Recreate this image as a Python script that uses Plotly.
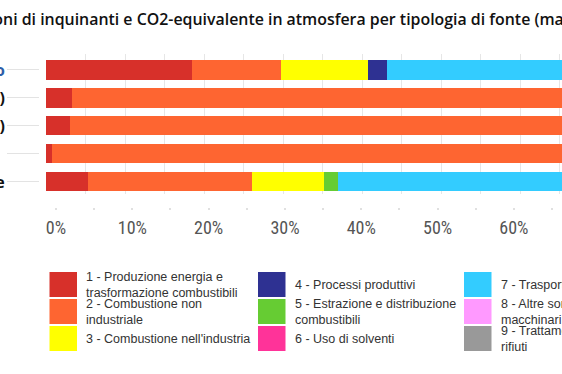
import plotly.graph_objects as go

# ---------------- data ----------------
categories = [
    "<span style='color:#2f5fa8'>Ossidi di azoto</span>",
    "Polveri sottili (PM10)",
    "Polveri fini (PM2.5)",
    "Benzo(a)pirene&nbsp;&nbsp;&nbsp;",
    "CO2 equivalente",
]
sources = [
    "1 - Produzione energia e<br>trasformazione combustibili",
    "2 - Combustione non<br>industriale",
    "3 - Combustione nell'industria",
    "4 - Processi produttivi",
    "5 - Estrazione e distribuzione<br>combustibili",
    "6 - Uso di solventi",
    "7 - Trasporto stradale",
    "8 - Altre sorgenti mobili e<br>macchinari",
    "9 - Trattamento e smaltimento<br>rifiuti",
]
colors = ["#D7302A", "#FE6531", "#FFFF00", "#2E3192", "#66CC33",
          "#FF3399", "#33CCFF", "#FF99FF", "#999999"]

s1 = [0.184, 0.032, 0.030, 0.007, 0.052]
s2 = [0.113, 0.930, 0.935, 0.970, 0.208]
s3 = [0.110, 0.010, 0.008, 0.010, 0.092]
s4 = [0.024, 0.005, 0.004, 0.000, 0.000]
s5 = [0.000, 0.000, 0.000, 0.000, 0.017]
s6 = [0.000, 0.000, 0.000, 0.000, 0.000]
s7 = [0.500, 0.015, 0.015, 0.010, 0.520]
s8 = [0.060, 0.005, 0.005, 0.003, 0.070]
s9 = [0.009, 0.003, 0.003, 0.000, 0.041]
series = [s1, s2, s3, s4, s5, s6, s7, s8, s9]

tick_vals = [0.0, 0.05, 0.10, 0.15, 0.20, 0.25, 0.30, 0.35, 0.40, 0.45, 0.50, 0.55, 0.60, 0.65]
tick_text = ["0%", "", "10%", "", "20%", "", "30%", "", "40%", "", "50%", "", "60%", ""]

title_text = "Emissioni di inquinanti e CO2-equivalente in atmosfera per tipologia di fonte (macrosettore)"

# ---------------- layout helpers ----------------
W, H = 562, 374
ML, MT, MB = 7, 54, 167
PW = W - ML
PH = H - MT - MB


def px_x(p):
    return (p - ML) / PW


def px_y(p):
    return (H - MB - p) / PH


fig = go.Figure()
for name, col, vals in zip(sources, colors, series):
    fig.add_trace(go.Bar(
        y=categories, x=vals, orientation="h", name=name,
        marker=dict(color=col, line=dict(width=0)),
        showlegend=False,
    ))

# invisible helper trace for the label axis
fig.add_trace(go.Scatter(x=[0], y=[categories[0]], xaxis="x2", yaxis="y",
                         mode="markers", marker=dict(opacity=0),
                         showlegend=False, hoverinfo="skip"))

# legend drawn manually (3 columns, column-major)
col_x = [49.5, 258, 464]
row_top = [272, 299, 326]
sw_w, sw_h = 27.5, 25
shapes = []
annotations = []
for i, (name, col) in enumerate(zip(sources, colors)):
    c, r = divmod(i, 3)
    x0 = col_x[c]
    y0 = row_top[r]
    shapes.append(dict(type="rect", xref="paper", yref="paper",
                       x0=px_x(x0), x1=px_x(x0 + sw_w),
                       y0=px_y(y0 + sw_h), y1=px_y(y0),
                       fillcolor=col, line=dict(width=0)))
    annotations.append(dict(text=name, xref="paper", yref="paper",
                            x=px_x(x0 + sw_w + 7), y=px_y(y0 + sw_h / 2),
                            xanchor="left", yanchor="middle", align="left",
                            showarrow=False,
                            font=dict(family="Liberation Sans, Arial", size=12.5, color="#333333")))

annotations.append(dict(text=title_text, xref="paper", yref="paper",
                        x=px_x(-57), y=px_y(19), xanchor="left", yanchor="middle",
                        showarrow=False,
                        font=dict(family="Open Sans", size=15.9, color="#111111", weight=600)))

fig.update_layout(
    width=W, height=H,
    margin=dict(l=ML, r=0, t=MT, b=MB, pad=0, autoexpand=False),
    paper_bgcolor="white", plot_bgcolor="white",
    barmode="stack", bargap=0.32,
    showlegend=False,
    shapes=shapes, annotations=annotations,
    xaxis=dict(domain=[px_x(46), 1], range=[-0.0006, 0.653],
               tickvals=tick_vals, showticklabels=False, ticks="",
               showgrid=True, gridcolor="#e6e6e6", gridwidth=1,
               zeroline=False, showline=False, anchor="y", fixedrange=True,
               automargin=False),
    xaxis2=dict(overlaying="x", anchor="free", position=0, side="bottom",
                range=[-0.0131, 0.663], tickvals=tick_vals, ticktext=tick_text,
                ticks="outside", ticklen=2, tickwidth=2, tickcolor="#e0e0e0",
                ticklabelstandoff=2, automargin=False,
                showgrid=False, zeroline=False, showline=False,
                tickfont=dict(family="Liberation Sans Narrow, Roboto Condensed, Arial Narrow, Liberation Sans", size=18, color="#555555")),
    yaxis=dict(domain=[px_y(194), 1], type="category",
               range=[4.43, -0.571], anchor="free", position=px_x(39),
               ticks="outside", ticklen=32, tickwidth=1, tickcolor="#e3e3e3",
               ticklabelstandoff=-1,
               showgrid=False, zeroline=False, showline=False, automargin=False,
               tickfont=dict(family="Open Sans", size=16, color="#111111", weight=700)),
)

fig.write_html("out.html", config={"displayModeBar": False},
               post_script="document.body.style.margin='0';")
